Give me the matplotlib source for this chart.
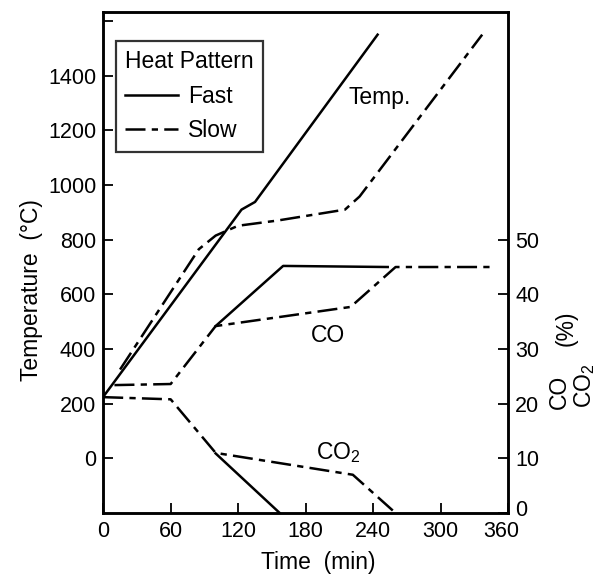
import matplotlib
matplotlib.use('Agg')
import matplotlib.pyplot as plt
import matplotlib.transforms as mtransforms

plt.rcParams['font.family'] = ['Liberation Sans', 'DejaVu Sans']
plt.rcParams['mathtext.fontset'] = 'custom'
plt.rcParams['mathtext.rm'] = 'Liberation Sans'

# temperature (left axis, deg C)
temp_fast_t = [0, 123, 135, 244]
temp_fast = [225, 910, 938, 1550]
temp_slow_t = [15, 85, 100, 120, 155, 215, 228, 337]
temp_slow = [325, 765, 815, 851, 870, 910, 958, 1550]

# gas composition (right axis, %)
co_fast_t = [100, 160, 253]
co_fast = [34.2, 45.2, 45.0]
co_slow_t = [10, 60, 100, 220, 260, 347]
co_slow = [23.4, 23.6, 34.2, 37.7, 45.0, 45.0]
co2_fast_t = [100, 157]
co2_fast = [10.9, 0]
co2_slow_t = [0, 60, 100, 222, 260]
co2_slow = [21.2, 20.8, 11.0, 7.0, 0]

x_ticks = [0, 60, 120, 180, 240, 300, 360]
temp_ticks = [0, 200, 400, 600, 800, 1000, 1200, 1400, 1600]
temp_labels = ['0', '200', '400', '600', '800', '1000', '1200', '1400', '']
pct_ticks = [0, 10, 20, 30, 40, 50]

solid = '-'
dashdot = (0, (8, 2.5, 2.5, 2.5))
lw = 1.8
fs_tick = 15.5
fs = 16.5

fig = plt.figure(figsize=(6.07, 5.83), dpi=100)
ax = fig.add_axes([0.170, 0.120, 0.667, 0.859])
ax2 = ax.twinx()

ax.plot(temp_fast_t, temp_fast, color='black', lw=lw, ls=solid, label='Fast')
ax.plot(temp_slow_t, temp_slow, color='black', lw=lw, ls=dashdot, label='Slow')

ax2.plot(co_fast_t, co_fast, color='black', lw=lw, ls=solid)
ax2.plot(co_slow_t, co_slow, color='black', lw=lw, ls=dashdot)
ax2.plot(co2_fast_t, co2_fast, color='black', lw=lw, ls=solid)
ax2.plot(co2_slow_t, co2_slow, color='black', lw=lw, ls=dashdot)

ax.set_xlim(0, 360)
ax.set_ylim(-200, 1632)
ax2.set_ylim(0, (1632 + 200) / 20)

ax.set_xticks(x_ticks)
ax.set_yticks(temp_ticks)
ax.set_yticklabels(temp_labels)
ax2.set_yticks(pct_ticks)

for a in (ax, ax2):
    a.tick_params(direction='in', length=7, width=1.3, labelsize=fs_tick, pad=5)
    for s in a.spines.values():
        s.set_linewidth(1.8)
ax.tick_params(axis='x', pad=6)

# nudge the two corner labels apart like in the original
fig.canvas.draw()
ax.get_xticklabels()[-1].set_transform(
    ax.get_xticklabels()[-1].get_transform()
    + mtransforms.ScaledTranslation(-7 / 100, 0, fig.dpi_scale_trans))
ax2.get_yticklabels()[0].set_transform(
    ax2.get_yticklabels()[0].get_transform()
    + mtransforms.ScaledTranslation(0, 5 / 100, fig.dpi_scale_trans))

ax.text(218, 1320, 'Temp.', fontsize=fs, ha='left', va='center')
ax2.text(185, 32.5, 'CO', fontsize=fs, ha='left', va='center')
ax2.text(189, 11, 'CO$_2$', fontsize=fs, ha='left', va='center')

ax.set_xlabel('Time  (min)', fontsize=fs)
ax.xaxis.set_label_coords(0.53, -0.076)
ax.set_ylabel('Temperature  (°C)', fontsize=fs)
ax.yaxis.set_label_coords(-0.148, 0.445)

fig.text(559 / 607, 1 - 392 / 583, 'CO', fontsize=fs, rotation=90, ha='center', va='center')
fig.text(585 / 607, 1 - 386 / 583, 'CO$_2$', fontsize=fs, rotation=90, ha='center', va='center')
fig.text(566 / 607, 1 - 328 / 583, '(%)', fontsize=fs, rotation=90, ha='center', va='center')

leg = ax.legend(title='Heat Pattern', loc='upper left', bbox_to_anchor=(0.032, 0.942),
                borderaxespad=0, fontsize=fs, title_fontsize=fs, alignment='left',
                handlelength=2.3, handletextpad=0.45, fancybox=False, frameon=True,
                borderpad=0.4, labelspacing=0.5)
leg.get_frame().set_edgecolor('black')
leg.get_frame().set_linewidth(1.6)

fig.savefig('out.png', dpi=100)
